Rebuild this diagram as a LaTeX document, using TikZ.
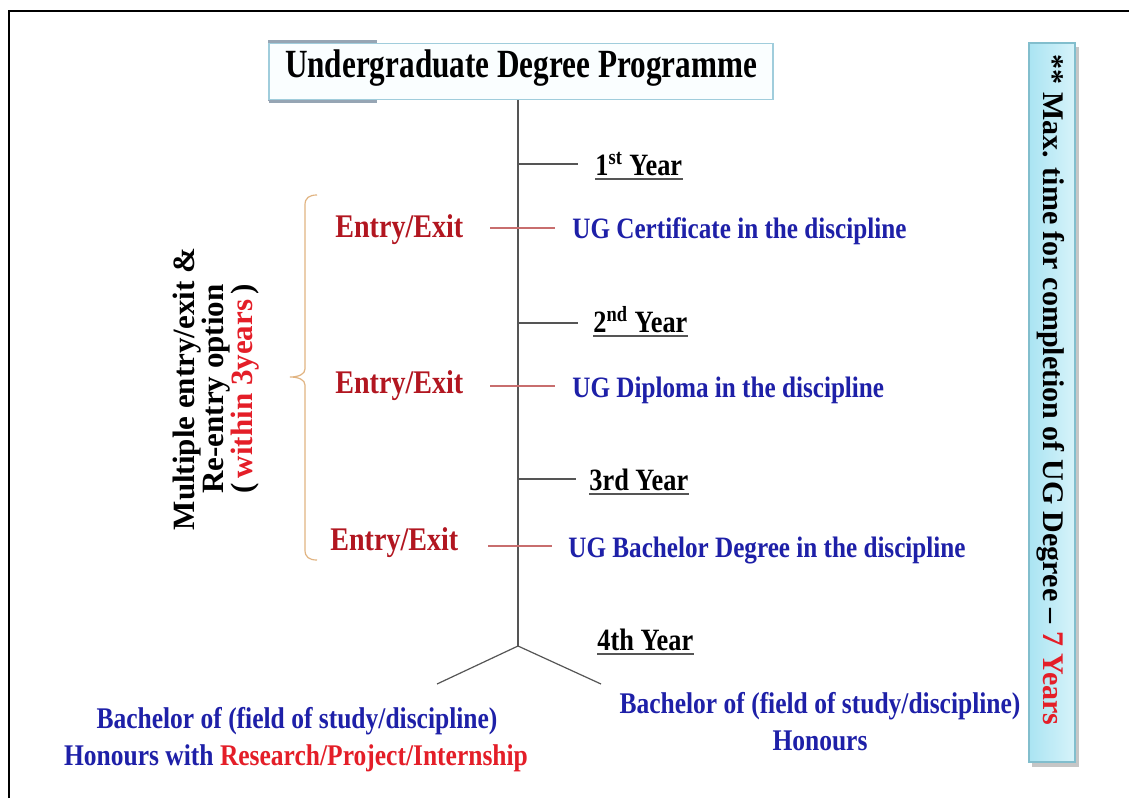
\documentclass[tikz,border=0pt]{standalone}
\usepackage{fontspec}
\setmainfont{Liberation Serif}
\newfontfamily\condA{Liberation Serif}[FakeStretch=0.85]
\newfontfamily\condT{Liberation Serif}[FakeStretch=0.78]
\definecolor{darkredc}{RGB}{178,22,32}
\definecolor{brightred}{RGB}{228,30,40}
\definecolor{ublue}{RGB}{30,32,168}
\definecolor{tickc}{RGB}{85,85,85}
\definecolor{redlc}{RGB}{200,110,110}
\definecolor{bracec}{RGB}{225,180,130}
\definecolor{tboxc}{RGB}{160,205,220}
\definecolor{tfill}{RGB}{250,254,255}
\definecolor{greyc}{RGB}{150,165,180}
\definecolor{cyanL}{RGB}{170,228,242}
\definecolor{cyanR}{RGB}{215,243,250}
\definecolor{cyanB}{RGB}{130,190,205}
\tikzset{
  stem/.style={draw=tickc, line width=0.6pt},
  tick/.style={draw=tickc, line width=0.6pt},
  redl/.style={draw=redlc, line width=0.6pt},
  ul/.style={draw=tickc, line width=1pt},
  yearlbl/.style={anchor=base west, inner sep=0, font=\condA\bfseries\fontsize{15.5}{18}\selectfont, text=black},
  entry/.style={anchor=base west, inner sep=0, font=\condA\bfseries\fontsize{16.5}{20}\selectfont, text=darkredc},
  award/.style={anchor=base west, inner sep=0, font=\condA\bfseries\fontsize{14.8}{17}\selectfont, text=ublue},
  bottomtxt/.style={anchor=base, inner sep=0, font=\condA\bfseries\fontsize{15}{18}\selectfont, text=ublue},
}
\begin{document}
\begin{tikzpicture}[x=0.5pt,y=-0.5pt]
\useasboundingbox (0,0) rectangle (1129,798);
\fill[white] (0,0) rectangle (1129,798);
% outer frame
\draw[line width=1pt] (9,798) -- (9,11) -- (1129,11);

% title box
\draw[greyc, line width=1.5pt] (269,101) -- (269,41) -- (377,41);
\draw[greyc, line width=1.5pt] (269,101) -- (377,101);
\node[draw=tboxc, fill=tfill, line width=0.8pt, minimum width=252pt, minimum height=28pt, inner sep=0] (tbox) at (521,71.5) {};
\node[anchor=base, inner sep=0, font=\condT\bfseries\fontsize{20}{24}\selectfont] (title) at (521,77) {Undergraduate Degree Programme};

% stem and branches
\coordinate (apex) at (518,646);
\coordinate (leftend) at (437,684);
\coordinate (rightend) at (601,684);
\draw[stem] (tbox.south -| apex) -- (apex);
\draw[stem] (apex) -- (leftend);
\draw[stem] (apex) -- (rightend);

% year labels
\node[yearlbl] (y1) at (595,175) {1\textsuperscript{st} Year};
\node[yearlbl] (y2) at (593,332) {2\textsuperscript{nd} Year};
\node[yearlbl] (y3) at (589,490) {3rd Year};
\node[yearlbl] (y4) at (597,650) {4th Year};
\foreach \n in {y1,y2,y3,y4}
  \draw[ul] ([yshift=-2.2pt]\n.base west) -- ([yshift=-2.2pt]\n.base east);
\coordinate (t1) at (518,164);
\coordinate (t2) at (518,323);
\coordinate (t3) at (518,479);
\draw[tick] (t1) -- ++(60,0);
\draw[tick] (t2) -- ++(60,0);
\draw[tick] (t3) -- ++(58,0);

% entry / exit
\node[entry] (e1) at (335,237) {Entry/Exit};
\node[entry] (e2) at (335,393) {Entry/Exit};
\node[entry] (e3) at (330,550) {Entry/Exit};
\node[award] (a1) at (572,238) {UG Certificate in the discipline};
\node[award] (a2) at (572,397) {UG Diploma in the discipline};
\node[award] (a3) at (568,557) {UG Bachelor Degree in the discipline};
\draw[redl] (490,228) -- (555,228);
\draw[redl] (490,386) -- (555,386);
\draw[redl] (488,546) -- (552,546);

% brace
\draw[draw=bracec, line width=0.6pt] (317,195) .. controls (309,195) and (305,198) .. (305,205) -- (305,369) .. controls (305,374) and (299,377) .. (290,377) .. controls (299,377) and (305,380) .. (305,385) -- (305,550) .. controls (305,557) and (309,560) .. (317,560);

% rotated left text
\node[rotate=90, align=center, inner sep=0, font=\bfseries\fontsize{15.5}{14.6}\selectfont] (mult) at (216,389) {Multiple entry/exit \&\\Re-entry option\\(\,\textcolor{brightred}{within 3years}\,)};

% right box
\fill[gray!45] (1032,47) rectangle (1079,767);
\shade[left color=cyanL, right color=cyanR, draw=cyanB, line width=0.6pt] (1029,43) rectangle (1075,762);
\node[rotate=-90, inner sep=0, font=\bfseries\fontsize{15}{18}\selectfont] (maxt) at (1051,390) {** Max. time for completion of UG Degree -- \textcolor{brightred}{7 Years}};

% bottom texts
\node[bottomtxt] (bl1) at (297,728) {Bachelor of (field of study/discipline)};
\node[bottomtxt] (bl2) at (296,765) {Honours with \textcolor{brightred}{Research/Project/Internship}};
\node[bottomtxt] (br1) at (820,713) {Bachelor of (field of study/discipline)};
\node[bottomtxt] (br2) at (820,750) {Honours};
\end{tikzpicture}
\end{document}
